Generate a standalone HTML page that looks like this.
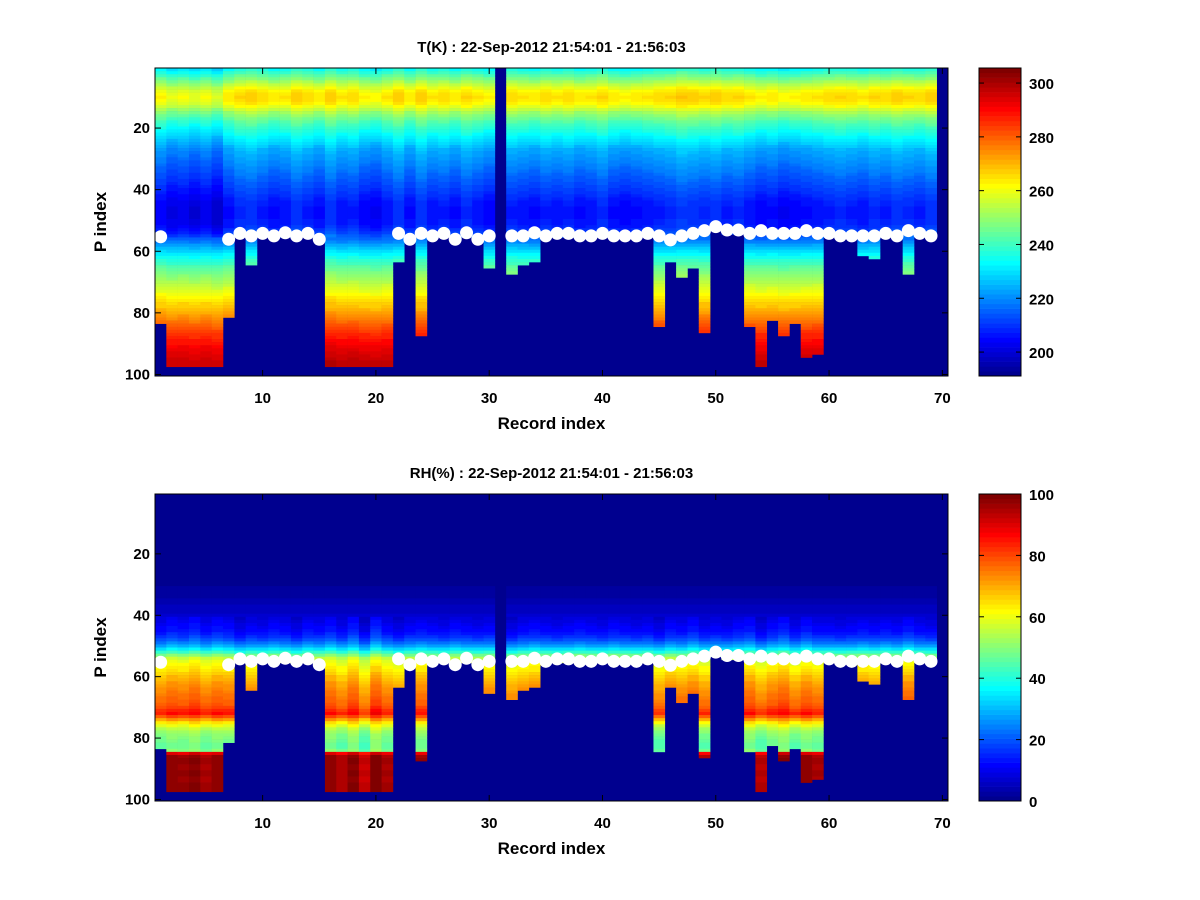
<!DOCTYPE html>
<html><head><meta charset="utf-8"><title>T and RH profiles</title>
<style>
html,body{margin:0;padding:0;background:#fff;}
svg{display:block;font-family:"Liberation Sans",Arial,sans-serif;font-weight:bold;}
</style></head>
<body>
<svg id="fig" width="1200" height="900" viewBox="0 0 1200 900" xmlns="http://www.w3.org/2000/svg">
<rect x="0" y="0" width="1200" height="900" fill="#fff"/>
</svg>
<script>
// ---- data ----
const records = Array.from({length:70},(_,i)=>i+1);
const xTicks = [10,20,30,40,50,60,70];
const yTicks = [20,40,60,80,100];
const tBarTicks = [200,220,240,260,280,300];
const rhBarTicks = [0,20,40,60,80,100];
// surface P index (white marker) per record, null = no marker
const surface = [55.3,null,null,null,null,null,56.1,54.2,55.0,54.2,55.0,54.0,55.0,54.2,56.1,
 null,null,null,null,null,null,54.2,56.1,54.2,55.0,54.2,56.1,54.0,56.1,55.0,
 null,55.0,55.0,54.0,55.0,54.2,54.2,55.0,55.0,54.2,55.0,55.0,55.0,54.2,55.0,
 56.3,55.0,54.2,53.3,52.0,53.1,53.1,54.2,53.3,54.2,54.2,54.2,53.3,54.2,54.2,
 55.0,55.0,55.0,55.0,54.2,55.0,53.3,54.2,55.0,null];
// last valid P level per record (0 = no data)
const bottom = [83,97,97,97,97,97,81,55,64,55,55,55,55,55,56,
 97,97,97,97,97,97,63,56,87,55,55,56,55,56,65,
 0,67,64,63,55,55,55,55,55,55,55,55,55,55,84,
 63,68,65,86,53,54,54,84,97,82,87,83,94,93,55,
 55,55,61,62,55,55,67,55,55,0];
// temperature offsets per record (K), applied above the surface
const tOffset = [0,-3,-2,-4,-2,-5,1,4,5,3,1,2,5,3,1,
 5,2,3,0,-1,2,5,1,5,2,3,1,4,2,0,
 0,3,2,1,3,2,3,1,2,4,1,0,1,2,3,
 4,6,5,4,5,3,4,2,0,1,-1,0,1,2,3,
 4,3,2,4,3,5,4,3,5,0];
// base temperature profile per P level 1..100 (K)
const tProfile = [233,237,241,245,249,253,257,260,262,263,
 262,260,257,253,249,246,243,240,238,236,
 234,232,230,228,226,224,222,221,220,219,
 218,217,216,215,214,213,212,211,210,209,
 208,207,206,205,205,204,204,204,204,205,
 205,206,208,210,213,216,219,223,226,229,
 232,235,238,240,243,245,247,249,251,253,
 255,257,259,261,263,265,267,268,270,272,
 274,276,278,280,282,284,286,287,289,290,
 292,293,294,295,296,297,297,298,299,300];
// base RH profile per P level 1..100 (%)
const rhProfile = [1,1,1,1,1,1,1,1,1,1,
 1,1,1,1,1,1,1,1,1,1,
 1,1,1,1,1,1,1,1,1,1,
 2,2,3,3,4,4,5,5,6,7,
 8,9,10,11,12,14,16,19,23,28,
 34,41,48,55,58,60,62,63,65,67,
 68,70,71,72,73,74,75,76,77,79,
 82,84,78,70,63,58,54,51,49,48,
 47,46,46,48,88,95,96,96,95,95,
 96,96,95,95,96,96,96,96,96,96];
// per-record RH offsets
const rhOffset = [0,2,1,3,0,2,1,-2,0,-1,1,0,-2,1,0,
 2,-1,3,-3,4,0,-2,0,1,0,-1,1,0,-1,0,
 0,-2,0,1,0,-1,0,1,0,-1,1,0,-1,0,-2,
 1,0,2,-1,0,-1,1,2,-2,1,3,-1,2,0,0,
 -1,0,1,0,1,0,2,0,-1,0];
const tRange = [191.1,305.6];
const rhRange = [0,100];

// ---- rendering ----
const NS='http://www.w3.org/2000/svg';
const svg=document.getElementById('fig');
function jet(i){const x=(i+1)/64;const c=v=>Math.round(255*Math.max(0,Math.min(1,v)));
 return 'rgb('+c(1.5-Math.abs(4*x-3))+','+c(1.5-Math.abs(4*x-2))+','+c(1.5-Math.abs(4*x-1))+')';}
function idx(v,r){return Math.max(0,Math.min(63,Math.floor((v-r[0])/(r[1]-r[0])*64)));}
function mk(tag,attrs,parent){const e=document.createElementNS(NS,tag);for(const k in attrs)e.setAttribute(k,attrs[k]);(parent||svg).appendChild(e);return e;}

function drawPanel(cfg){
 const g=mk('g',{});
 
 
 const X0=155,X1=948,Y0=cfg.y0,Y1=cfg.y1;
 const xs=r=>X0+(r-0.5)/70*(X1-X0);
 const ys=p=>Y0+(p-0.5)/100*(Y1-Y0);
 mk('rect',{x:X0,y:Y0,width:X1-X0,height:Y1-Y0,fill:jet(0)},g);
 records.forEach((r,ci)=>{
  let runStart=1,runIdx=null;
  const colIdx=[];
  for(let p=1;p<=100;p++){
   let k=0;
   if(p<=bottom[ci]){k=idx(cfg.val(ci,p),cfg.range);}
   colIdx.push(k);
  }
  for(let p=1;p<=101;p++){
   const k=p<=100?colIdx[p-1]:-1;
   if(k!==runIdx){
    if(runIdx!==null&&runIdx!==0){
     const rc=mk('rect',{x:xs(r-0.5).toFixed(2),y:ys(runStart-0.5).toFixed(2),width:(xs(r+0.5)-xs(r-0.5)+0.3).toFixed(2),height:(ys(p-0.5)-ys(runStart-0.5)+0.3).toFixed(2),fill:jet(runIdx)},g);
     
     
    }
    runIdx=k;runStart=p;
   }
  }
 });
 records.forEach((r,ci)=>{
  if(surface[ci]==null)return;
  const c=mk('circle',{cx:xs(r).toFixed(2),cy:ys(surface[ci]).toFixed(2),r:6.5,fill:'#fff'},g);
  
  
 });
 mk('rect',{x:X0,y:Y0,width:X1-X0,height:Y1-Y0,fill:'none',stroke:'#000','stroke-width':1},g);
 xTicks.forEach(t=>{const x=xs(t);
  mk('line',{x1:x,y1:Y1,x2:x,y2:Y1-6,stroke:'#000'},g);
  mk('line',{x1:x,y1:Y0,x2:x,y2:Y0+6,stroke:'#000'},g);
  const tx=mk('text',{x:x,y:Y1+27,'text-anchor':'middle','font-size':15},g);tx.textContent=t;
  
  
 });
 yTicks.forEach(t=>{const y=ys(t);
  mk('line',{x1:X0,y1:y,x2:X0+6,y2:y,stroke:'#000'},g);
  mk('line',{x1:X1,y1:y,x2:X1-6,y2:y,stroke:'#000'},g);
  const tx=mk('text',{x:X0-5,y:y+5,'text-anchor':'end','font-size':15},g);tx.textContent=t;
  
  
 });
 const ti=mk('text',{x:(X0+X1)/2,y:Y0-16,'text-anchor':'middle','font-size':15},g);ti.textContent=cfg.title;
 
 
 const xl=mk('text',{x:(X0+X1)/2,y:Y1+53,'text-anchor':'middle','font-size':17},g);xl.textContent='Record index';
 
 
 const yl=mk('text',{x:0,y:0,'text-anchor':'middle','font-size':17,transform:'translate(106,'+((Y0+Y1)/2)+') rotate(-90)'},g);yl.textContent='P index';
 
 
 // colorbar
 const cb=mk('g',{},g);
 
 
 const CX0=979,CX1=1021,h=(Y1-Y0)/64;
 for(let i=0;i<64;i++){mk('rect',{x:CX0,y:(Y1-(i+1)*h).toFixed(2),width:CX1-CX0,height:(h+0.3).toFixed(2),fill:jet(i)},cb);}
 mk('rect',{x:CX0,y:Y0,width:CX1-CX0,height:Y1-Y0,fill:'none',stroke:'#000'},cb);
 const cs=v=>Y1-(v-cfg.range[0])/(cfg.range[1]-cfg.range[0])*(Y1-Y0);
 cfg.barTicks.forEach(t=>{const y=cs(t);
  mk('line',{x1:CX1,y1:y,x2:CX1-5,y2:y,stroke:'#000'},cb);
  mk('line',{x1:CX0,y1:y,x2:CX0+5,y2:y,stroke:'#000'},cb);
  const tx=mk('text',{x:CX1+8,y:y+6,'font-size':15},cb);tx.textContent=t;
  
  
 });
}
drawPanel({name:'temperature',y0:68,y1:376,range:tRange,barTicks:tBarTicks,
 title:'T(K) : 22-Sep-2012 21:54:01 - 21:56:03',
 val:(ci,p)=>tProfile[p-1]+(p<56?tOffset[ci]:tOffset[ci]*0.3)});
drawPanel({name:'humidity',y0:494,y1:801,range:rhRange,barTicks:rhBarTicks,
 title:'RH(%) : 22-Sep-2012 21:54:01 - 21:56:03',
 val:(ci,p)=>rhProfile[p-1]+(p>40?rhOffset[ci]:0)});
</script>
</body></html>
